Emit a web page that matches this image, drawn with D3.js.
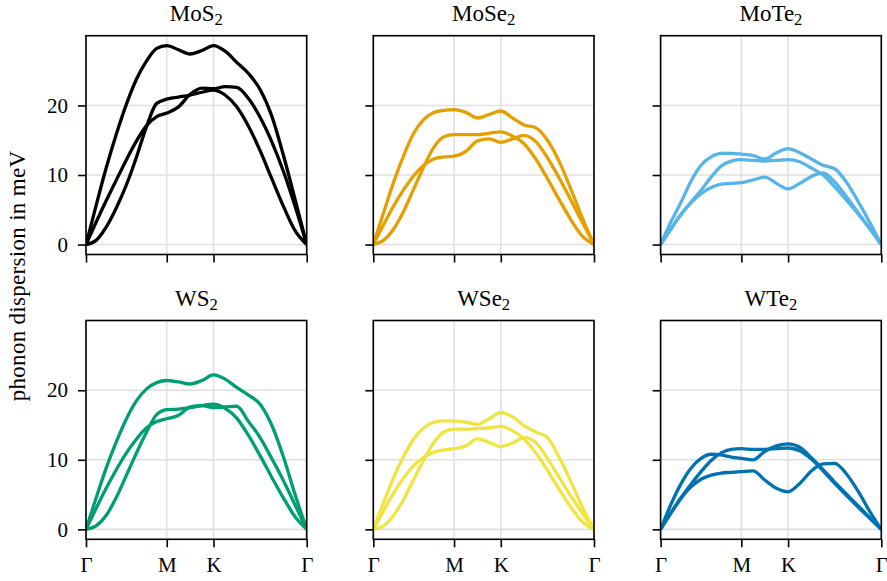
<!DOCTYPE html>
<html>
<head>
<meta charset="utf-8">
<script src="https://cdn.jsdelivr.net/npm/d3@7"></script>
<style>
  body { margin: 0; background: #fff; }
  svg { display: block; }
</style>
</head>
<body>
<svg id="chart" width="887" height="581"></svg>
<script>
// High-symmetry points along the path Γ–M–K–Γ (path length units)
const kLabels = ["Γ", "M", "K", "Γ"];
const kTicks = [0, 0.577, 0.911, 1.577];

// Sample positions along the path: 8 steps Γ–M, 4 steps M–K, 8 steps K–Γ
const q = [0, 0.072, 0.144, 0.217, 0.289, 0.361, 0.433, 0.505, 0.577,
           0.661, 0.744, 0.828, 0.911,
           0.994, 1.077, 1.161, 1.244, 1.327, 1.411, 1.494, 1.577];

const yTicks = [0, 10, 20];

// Panel titles: base formula and subscript
const names = [["MoS", "2"], ["MoSe", "2"], ["MoTe", "2"], ["WS", "2"], ["WSe", "2"], ["WTe", "2"]];
const colors = ["#000000", "#E69F00", "#56B4E9", "#009E73", "#F0E442", "#0072B2"];

// Acoustic branches (meV) at the sample positions q
const MoS2 = [
  [0, 5.6, 11.0, 15.9, 20.2, 23.8, 26.4, 28.2, 28.6, 28.0, 27.4, 27.9, 28.6, 27.8, 26.2, 24.6, 22.3, 18.5, 12.8, 6.5, 0],
  [0, 0.6, 2.5, 5.3, 8.6, 12.6, 17.0, 20.3, 20.9, 21.2, 21.5, 21.9, 22.2, 21.5, 19.8, 17.0, 13.5, 9.5, 5.5, 2.0, 0],
  [0, 3.2, 6.3, 9.3, 12.2, 14.9, 17.1, 18.4, 18.9, 19.8, 21.6, 22.5, 22.4, 22.7, 22.6, 21.0, 18.3, 14.8, 10.5, 5.5, 0]
];
const MoSe2 = [
  [0, 4.5, 8.9, 12.8, 16.0, 18.0, 19.0, 19.3, 19.4, 19.0, 18.2, 18.7, 19.2, 18.2, 17.2, 16.8, 15.0, 12.0, 8.0, 3.8, 0],
  [0, 0.6, 2.2, 4.8, 8.0, 11.2, 14.0, 15.5, 15.8, 15.8, 15.8, 16.0, 16.2, 15.6, 14.5, 12.3, 9.5, 6.5, 3.6, 1.2, 0],
  [0, 2.8, 5.5, 7.9, 9.9, 11.4, 12.3, 12.6, 12.7, 13.4, 14.9, 15.2, 14.7, 15.2, 15.7, 14.8, 12.5, 9.6, 6.4, 3.2, 0]
];
const MoTe2 = [
  [0, 3.2, 6.0, 9.1, 11.4, 12.6, 13.1, 13.1, 13.0, 12.8, 12.3, 13.2, 13.8, 13.2, 12.3, 11.4, 10.9, 9.0, 6.2, 3.2, 0],
  [0, 2.2, 4.3, 6.1, 7.8, 9.7, 11.3, 12.0, 12.2, 12.1, 12.0, 12.1, 12.2, 11.9, 11.0, 10.0, 8.3, 6.4, 4.4, 2.3, 0],
  [0, 2.2, 4.3, 6.0, 7.3, 8.2, 8.7, 8.8, 8.9, 9.3, 9.7, 8.8, 8.0, 8.8, 9.8, 10.3, 9.0, 6.9, 4.6, 2.3, 0]
];
const WS2 = [
  [0, 4.5, 8.8, 12.6, 15.9, 18.5, 20.2, 21.1, 21.4, 21.2, 20.9, 21.4, 22.2, 21.6, 20.4, 19.3, 18.0, 15.0, 10.4, 5.0, 0],
  [0, 0.5, 2.0, 4.6, 7.8, 11.0, 14.0, 16.5, 17.2, 17.3, 17.5, 17.8, 18.0, 17.4, 16.0, 13.5, 10.6, 7.5, 4.5, 1.8, 0],
  [0, 3.0, 5.9, 8.6, 11.0, 13.0, 14.6, 15.5, 15.9, 16.4, 17.6, 17.8, 17.5, 17.6, 17.7, 15.5, 13.2, 10.2, 7.0, 3.5, 0]
];
const WSe2 = [
  [0, 3.8, 7.4, 10.5, 13.0, 14.6, 15.4, 15.6, 15.6, 15.4, 15.1, 15.9, 16.8, 16.2, 14.9, 14.0, 13.2, 10.4, 6.9, 3.2, 0],
  [0, 0.5, 2.0, 4.3, 7.2, 10.0, 12.5, 14.0, 14.4, 14.4, 14.5, 14.6, 14.8, 14.2, 13.0, 11.0, 8.5, 5.8, 3.2, 1.1, 0],
  [0, 2.6, 5.2, 7.4, 9.2, 10.4, 11.1, 11.4, 11.6, 12.0, 13.0, 12.5, 11.9, 12.4, 13.2, 12.5, 10.2, 7.5, 4.8, 2.3, 0]
];
const WTe2 = [
  [0, 3.5, 6.5, 8.8, 10.2, 10.8, 10.7, 10.4, 10.2, 10.0, 11.2, 12.0, 12.3, 11.8, 10.3, 8.6, 6.8, 5.1, 3.4, 1.7, 0],
  [0, 2.3, 4.5, 6.5, 8.3, 9.9, 11.0, 11.5, 11.6, 11.5, 11.5, 11.6, 11.7, 11.3, 10.1, 8.4, 6.6, 4.9, 3.2, 1.6, 0],
  [0, 2.3, 4.4, 6.1, 7.2, 7.8, 8.1, 8.2, 8.3, 8.4, 7.1, 5.9, 5.4, 6.6, 8.4, 9.4, 9.5, 8.0, 5.5, 2.6, 0]
];

const panels = [MoS2, MoSe2, MoTe2, WS2, WSe2, WTe2];

// Layout
const colLeft = [86, 373.3, 660.6];
const rowTop = [35.7, 320.5];
const pw = 220.7, ph = 218.8;
const serif = '"Liberation Serif", "Times New Roman", serif';
const fontTick = 21, fontTitle = 23;

const svg = d3.select("#chart");

// Shared y range with 5% margins, x spans the path exactly
const yMax = d3.max(panels.flat(2));
const yPad = 0.05 * yMax;
const x = d3.scaleLinear().domain([kTicks[0], kTicks[3]]).range([0, pw]);
const y = d3.scaleLinear().domain([-yPad, yMax + yPad]).range([ph, 0]);

const line = d3.line()
  .x((d, i) => x(q[i]))
  .y(d => y(d))
  .curve(d3.curveMonotoneX);

panels.forEach((bands, p) => {
  const row = Math.floor(p / 3), col = p % 3;
  const g = svg.append("g").attr("transform", `translate(${colLeft[col]},${rowTop[row]})`);

  g.append("clipPath").attr("id", "clip" + p)
    .append("rect").attr("width", pw).attr("height", ph);

  // grid
  const grid = g.append("g");
  grid.selectAll("line.gx").data(kTicks).join("line")
    .attr("class", "gx")
    .attr("x1", d => x(d)).attr("x2", d => x(d))
    .attr("y1", 0).attr("y2", ph)
    .attr("stroke", "#e0e0e0").attr("stroke-width", 1.6);
  grid.selectAll("line.gy").data(yTicks).join("line")
    .attr("class", "gy")
    .attr("x1", 0).attr("x2", pw)
    .attr("y1", d => y(d)).attr("y2", d => y(d))
    .attr("stroke", "#e0e0e0").attr("stroke-width", 1.6);

  // branches
  g.append("g").attr("clip-path", `url(#clip${p})`)
    .selectAll("path").data(bands).join("path")
    .attr("d", line)
    .attr("fill", "none")
    .attr("stroke", colors[p])
    .attr("stroke-width", 3.3)
    .attr("stroke-linejoin", "round");

  // axes
  const yAxis = d3.axisLeft(y).tickValues(yTicks).tickSize(8).tickPadding(10)
    .tickFormat(col === 0 ? d3.format("d") : () => "");
  const xAxis = d3.axisBottom(x).tickValues(kTicks).tickSize(8).tickPadding(10)
    .tickFormat((d, i) => row === 1 ? kLabels[i] : "");

  const ya = g.append("g").call(yAxis);
  const xa = g.append("g").attr("transform", `translate(0,${ph})`).call(xAxis);
  [ya, xa].forEach(a => {
    a.attr("font-family", null).attr("font-size", null);
    a.select(".domain").remove();
    a.selectAll(".tick line").attr("stroke", "#000").attr("stroke-width", 1.6);
    a.selectAll(".tick text")
      .style("font-family", serif)
      .style("font-size", fontTick + "px")
      .attr("fill", "#000");
  });

  // frame
  g.append("rect").attr("width", pw).attr("height", ph)
    .attr("fill", "none").attr("stroke", "#000").attr("stroke-width", 1.6);

  // title with subscript
  const t = g.append("text")
    .attr("x", pw / 2).attr("y", -15)
    .attr("text-anchor", "middle")
    .style("font-family", serif)
    .style("font-size", fontTitle + "px")
    .attr("fill", "#000");
  t.append("tspan").text(names[p][0]);
  t.append("tspan").attr("dy", 4.5).style("font-size", (fontTitle * 0.72) + "px").text(names[p][1]);
});

// shared y label
svg.append("text")
  .attr("transform", "translate(25,276) rotate(-90)")
  .attr("text-anchor", "middle")
  .style("font-family", serif)
  .style("font-size", "23px")
  .style("letter-spacing", "0.3px")
  .attr("fill", "#000")
  .text("phonon dispersion in meV");
</script>
</body>
</html>
